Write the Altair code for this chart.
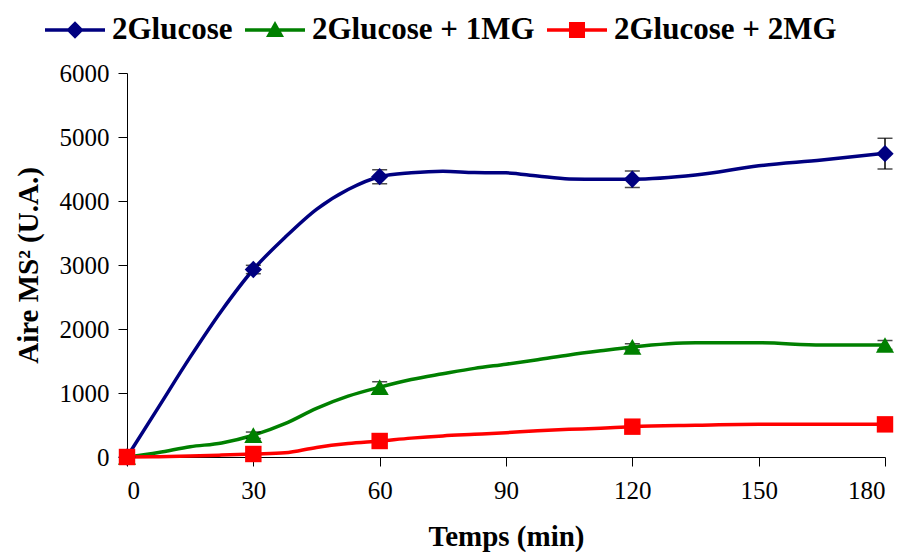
import altair as alt
import pandas as pd

series_names = ["2Glucose", "2Glucose + 1MG", "2Glucose + 2MG"]
series_colors = ["#000080", "#008000", "#FF0000"]
marker_shapes = ["diamond", "triangle-up", "square"]

# smooth-line trace
t_line = [0, 7.5, 15, 22.5, 30, 37.5, 45, 52.5, 60, 67.5, 75, 82.5, 90, 97.5,
          105, 112.5, 120, 135, 150, 165, 180]
glc_line = [0, 780, 1560, 2290, 2930, 3430, 3870, 4180, 4380, 4440, 4465, 4445,
            4440, 4390, 4345, 4340, 4340, 4405, 4550, 4640, 4745]
mg1_line = [0, 70, 160, 220, 340, 520, 760, 950, 1090, 1210, 1300, 1385,
            1450, 1520, 1595, 1660, 1720, 1785, 1785, 1750, 1750]
mg2_line = [0, 5, 15, 30, 47, 65, 150, 210, 250, 295, 330, 355,
            380, 410, 432, 450, 474, 495, 510, 510, 510]

# measured points with error bars
t_pts = [0, 30, 60, 120, 180]
glc_pts = [0, 2930, 4380, 4340, 4740]
glc_err = [0, 65, 110, 130, 240]
mg1_pts = [0, 340, 1090, 1720, 1750]
mg1_err = [0, 50, 85, 50, 70]
mg2_pts = [0, 47, 250, 474, 510]
mg2_err = [0, 15, 20, 25, 20]

x_ticks = [0, 30, 60, 90, 120, 150, 180]
y_ticks = [0, 1000, 2000, 3000, 4000, 5000, 6000]

legend_paths = [
    "M-1,-0.058H1V0.058H-1Z M0,-0.29L0.29,0L0,0.29L-0.29,0Z",
    "M-1,-0.058H1V0.058H-1Z M0,-0.3L0.3,0.233L-0.3,0.233Z",
    "M-1,-0.058H1V0.058H-1Z M-0.267,-0.267H0.267V0.267H-0.267Z",
]

line_rows = []
for name, vals in zip(series_names, [glc_line, mg1_line, mg2_line]):
    for i, (t, v) in enumerate(zip(t_line, vals)):
        line_rows.append({"serie": name, "t": t, "v": v, "o": i})
line_df = pd.DataFrame(line_rows)

pt_rows = []
for k, (name, vals, errs) in enumerate(zip(series_names, [glc_pts, mg1_pts, mg2_pts],
                                          [glc_err, mg1_err, mg2_err])):
    for t, v, e in zip(t_pts, vals, errs):
        pt_rows.append({"serie": name, "t": t, "v": v, "lo": v - e, "hi": v + e, "k": k})
pt_df = pd.DataFrame(pt_rows)

FONT = "Liberation Serif"

x_enc = alt.X("t:Q", scale=alt.Scale(domain=[0, 180], nice=False),
              axis=alt.Axis(values=x_ticks, title="Temps (min)", format="d"))
y_enc = alt.Y("v:Q", scale=alt.Scale(domain=[0, 6000], nice=False),
              axis=alt.Axis(values=y_ticks, title="Aire MS² (U.A.)", format="d"))

color_noleg = alt.Color("serie:N", scale=alt.Scale(domain=series_names, range=series_colors),
                        legend=None)

lines = alt.Chart(line_df).mark_line(strokeWidth=3.5, interpolate="monotone").encode(
    x=x_enc, y=y_enc, color=color_noleg, order="o:Q", detail="serie:N")

err_rule = alt.Chart(pt_df).mark_rule(color="black", strokeWidth=1.5).encode(
    x="t:Q", y="lo:Q", y2="hi:Q")
cap_lo = alt.Chart(pt_df).mark_tick(color="black", orient="horizontal", size=15,
                                    thickness=1.5).encode(x="t:Q", y="lo:Q")
cap_hi = alt.Chart(pt_df).mark_tick(color="black", orient="horizontal", size=15,
                                    thickness=1.5).encode(x="t:Q", y="hi:Q")

def marker_layer(name, shape, size):
    return alt.Chart(pt_df[pt_df.serie == name]).mark_point(
        filled=True, opacity=1, size=size, shape=shape, strokeWidth=0
    ).encode(x="t:Q", y="v:Q", color=color_noleg)

m1 = marker_layer(series_names[0], "diamond", 300)
m2 = marker_layer(series_names[1], "triangle-up", 330)
m3 = marker_layer(series_names[2], "square", 270)

leg = alt.Legend(title=None, orient="none", legendX=-82, legendY=-73, direction="horizontal",
                 columns=3, symbolSize=3600, symbolOpacity=1, symbolStrokeWidth=0,
                 labelFont=FONT, labelFontSize=31, labelFontWeight="bold", labelColor="black",
                 labelOffset=7, columnPadding=12, padding=0, labelLimit=400)

legend_layer = alt.Chart(pt_df).mark_point(filled=True, opacity=0, size=3600, strokeWidth=0).encode(
    x="t:Q", y="v:Q",
    color=alt.Color("serie:N", scale=alt.Scale(domain=series_names, range=series_colors), legend=leg),
    shape=alt.Shape("serie:N", scale=alt.Scale(domain=series_names, range=legend_paths), legend=leg),
)

chart = alt.layer(lines, err_rule, cap_lo, cap_hi, m1, m2, m3, legend_layer).resolve_scale(
    color="independent", shape="independent"
).properties(
    width=758, height=384, autosize="none",
    padding={"left": 119, "top": 65, "right": 12, "bottom": 95},
).configure_view(stroke=None).configure_axis(
    grid=False, domainColor="black", tickColor="black", labelColor="black",
    domainWidth=1, tickWidth=1, tickSize=9,
    labelFont=FONT, labelFontSize=25,
    titleFont=FONT, titleFontSize=29, titleFontWeight="bold", titleColor="black",
).configure_axisX(titlePadding=19, labelPadding=12).configure_axisY(titlePadding=16, labelPadding=9)

chart.save("out.html", embed_options={"renderer": "svg", "actions": False})
